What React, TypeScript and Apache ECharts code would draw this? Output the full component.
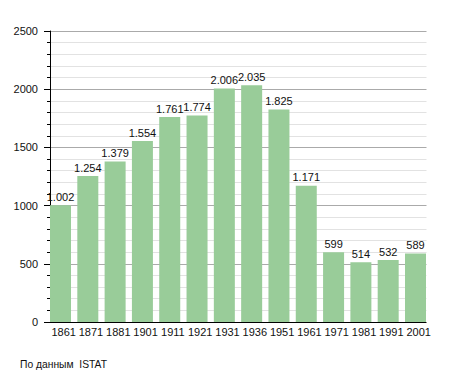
import React, { useEffect, useRef } from "react";
import * as echarts from "echarts";

const years = ["1861", "1871", "1881", "1901", "1911", "1921", "1931", "1936", "1951", "1961", "1971", "1981", "1991", "2001"];
const population = [1002, 1254, 1379, 1554, 1761, 1774, 2006, 2035, 1825, 1171, 599, 514, 532, 589];
const spacer = years.map(() => 0);
const footnote = "По данным  ISTAT";

const fmt = (v: number) => {
  const s = String(Math.round(v));
  return s.replace(/\B(?=(\d{3})+(?!\d))/g, ".");
};

export default function App() {
  const ref = useRef<HTMLDivElement>(null);
  useEffect(() => {
    if (!ref.current) return;
    const chart = echarts.init(ref.current, null, { renderer: "svg" });
    const font = "'Liberation Sans', Arial, sans-serif";
    chart.setOption({
      animation: false,
      backgroundColor: "#ffffff",
      textStyle: { fontFamily: font },
      grid: { left: 50, top: 31, width: 382.3, height: 291, containLabel: false },
      xAxis: {
        type: "category",
        data: years,
        boundaryGap: true,
        axisLine: { show: true, lineStyle: { color: "#000", width: 1 } },
        axisTick: { show: false },
        axisLabel: { color: "#111", fontSize: 11, margin: 4, fontFamily: font, interval: 0 },
        splitLine: { show: false },
      },
      yAxis: {
        type: "value",
        min: 0,
        max: 2500,
        interval: 500,
        axisLine: { show: true, lineStyle: { color: "#000", width: 1 } },
        axisTick: { show: true, length: 6, lineStyle: { color: "#000" } },
        minorTick: { show: true, splitNumber: 5, length: 3, lineStyle: { color: "#000" } },
        axisLabel: { color: "#111", fontSize: 11, margin: 12, fontFamily: font, formatter: (v: number) => String(v) },
        splitLine: { show: true, lineStyle: { color: "#aaaaaa", width: 1 } },
        minorSplitLine: { show: true, lineStyle: { color: "#e2e2e2", width: 1 } },
      },
      series: [
        {
          type: "bar",
          data: population,
          barWidth: 21,
          barGap: "0%",
          itemStyle: { color: "#99cc99" },
          label: {
            show: true,
            position: "top",
            distance: 3,
            color: "#111",
            fontSize: 11,
            fontFamily: font,
            formatter: (p: any) => fmt(p.value),
          },
          z: 3,
        },
        {
          type: "bar",
          data: spacer,
          barWidth: 6.3,
          itemStyle: { color: "transparent" },
          silent: true,
        },
      ],
      graphic: [
        {
          type: "rect",
          z: 100,
          shape: { x: 426.5, y: 20, width: 20, height: 306 },
          style: { fill: "#ffffff" },
        },
        {
          type: "text",
          left: 20,
          top: 359,
          style: { text: footnote, fill: "#111", font: `10.3px ${font}` },
        },
      ],
    });
    return () => chart.dispose();
  }, []);
  return <div ref={ref} style={{ position: "fixed", left: 0, top: 0, width: 455, height: 373 }} />;
}
